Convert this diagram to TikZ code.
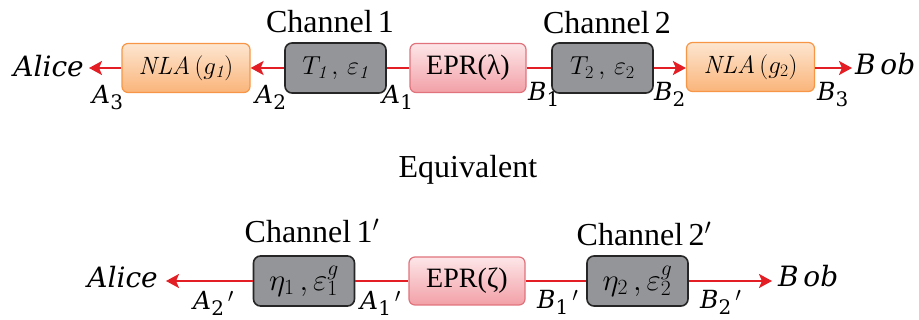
\RequirePackage{fix-cm}
\documentclass[tikz,border=0pt]{standalone}
\usepackage{fontspec}
\usetikzlibrary{arrows.meta}
\newfontfamily\serffont{Liberation Serif}
\newfontfamily\dvsfont{DejaVu Serif}
\newcommand{\plab}[3]{{\dvsfont\itshape\fontsize{25}{25}\selectfont #1}\raisebox{-6pt}{\dvsfont\fontsize{20}{20}\selectfont #2}#3}
\newcommand{\pprime}{\hspace{4pt}\raisebox{7pt}{\fontsize{20}{20}\selectfont$\prime$}}
\definecolor{wirered}{HTML}{E31E24}
\definecolor{nlaborder}{HTML}{F79646}
\definecolor{nlatop}{HTML}{FDE6D0}
\definecolor{nlabot}{HTML}{FAB57A}
\definecolor{eprborder}{HTML}{E0737C}
\definecolor{eprtop}{HTML}{FDE6E8}
\definecolor{eprbot}{HTML}{F2A0A7}
\definecolor{chgray}{HTML}{939598}
\begin{document}
\begin{tikzpicture}[x=1pt,y=-1pt,
  nlabox/.style={rounded corners=6pt, draw=nlaborder, line width=1.2pt, top color=nlatop, bottom color=nlabot, minimum width=128pt, minimum height=49pt, inner sep=0pt, font=\fontsize{25}{25}\selectfont},
  eprbox/.style={rounded corners=6pt, draw=eprborder, line width=1.2pt, top color=eprtop, bottom color=eprbot, minimum width=116pt, minimum height=49pt, inner sep=0pt, font=\serffont\fontsize{28}{28}\selectfont},
  chanbox/.style={rounded corners=7pt, draw=black!85, line width=1.6pt, fill=chgray, minimum width=101pt, minimum height=50pt, inner sep=0pt, font=\fontsize{26}{26}\selectfont},
  wire/.style={draw=wirered, line width=2.2pt},
  arr/.style={wire, -{Stealth[length=13pt,width=14pt,inset=3pt]}},
  party/.style={inner ysep=0pt, inner xsep=5pt, font=\dvsfont\itshape\fontsize{28}{28}\selectfont},
  port/.style={anchor=base west, inner sep=0pt},
  title/.style={anchor=base, inner sep=0pt, font=\serffont\fontsize{32}{32}\selectfont}
]
\useasboundingbox (0,0) rectangle (919,320);

% ---------- top row ----------
\node[nlabox] (nla1) at (186,68) {$\mathit{NLA}\,(g_{\mathit{1}})$};
\node[chanbox] (t1) at (335.5,68) {$T_{\mathit{1}}\,,\,\varepsilon_{\mathit{1}}$};
\node[eprbox] (epr1) at (468,68) {EPR(λ)};
\node[chanbox] (t2) at (602.5,68) {$T_{2}\,,\,\varepsilon_{2}$};
\node[nlabox] (nla2) at (750.5,67) {$\mathit{NLA}\,(g_{2})$};
\node[party, anchor=base east] (alice) at (89,77) {Alice};
\node[party, anchor=base west, inner xsep=3pt] (bob) at (852,75) {B\,ob};

\draw[arr] (nla1.west) -- (nla1.west -| alice.east);
\draw[arr] (t1.west) -- (nla1.east);
\draw[wire] (epr1.west) -- (t1.east);
\draw[wire] (epr1.east) -- (t2.west);
\draw[arr] (t2.east) -- (nla2.west |- t2.east);
\draw[arr] (nla2.east |- t2.east) -- (t2.east -| bob.west);

\node[title] (ch1) at (330,33) {Channel\,1};
\node[title] (ch2) at (607,34) {Channel\,2};

\node[port] (a3) at (92,104) {\plab{A}{3}{}};
\node[port] (a2) at (255,104) {\plab{A}{2}{}};
\node[port] (a1) at (382,104) {\plab{A}{1}{}};
\node[port] (b1) at (528,101) {\plab{B}{1}{}};
\node[port] (b2) at (654,101) {\plab{B}{2}{}};
\node[port] (b3) at (817,101) {\plab{B}{3}{}};

\node[title] (eq) at (468,178) {Equivalent};

% ---------- bottom row ----------
\node[chanbox, font=\fontsize{31}{31}\selectfont] (e1) at (304,281) {$\eta_1\,,\varepsilon_1^g$};
\node[eprbox, minimum height=48pt] (epr2) at (467,281) {EPR(ζ)};
\node[chanbox, font=\fontsize{31}{31}\selectfont] (e2) at (637.5,281) {$\eta_2\,,\varepsilon_2^g$};
\node[party, anchor=base east, inner xsep=8pt] (alice2) at (166,288) {Alice};
\node[party, anchor=base west, inner xsep=6pt] (bob2) at (772,287) {B\,ob};

\draw[arr] (e1.west) -- (e1.west -| alice2.east);
\draw[wire] (epr2.west) -- (e1.east);
\draw[wire] (epr2.east) -- (e2.west);
\draw[arr] (e2.east) -- (e2.east -| bob2.west);

\node[title] (ch1p) at (312,243) {Channel\,1$'$};
\node[title] (ch2p) at (644,246) {Channel\,2$'$};

\node[port] (a2p) at (193,310) {\plab{A}{2}{\pprime}};
\node[port] (a1p) at (360,310) {\plab{A}{1}{\pprime}};
\node[port] (b1p) at (537,309) {\plab{B}{1}{\pprime}};
\node[port] (b2p) at (700,309) {\plab{B}{2}{\pprime}};
\end{tikzpicture}
\end{document}
